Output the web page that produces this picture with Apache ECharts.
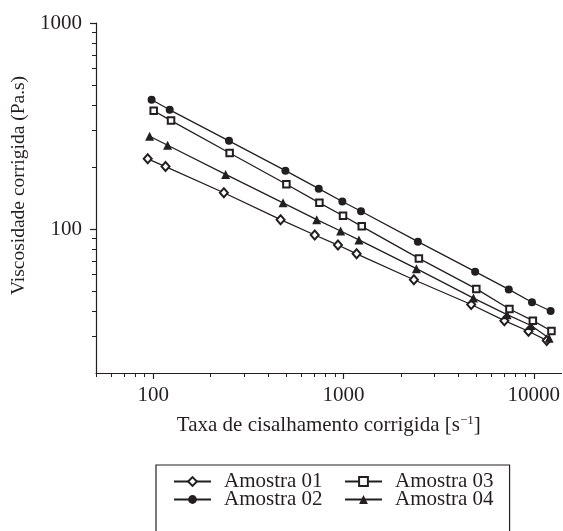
<!DOCTYPE html>
<html>
<head>
<meta charset="utf-8">
<script src="https://cdn.jsdelivr.net/npm/echarts@6/dist/echarts.min.js"></script>
<style>
html,body{margin:0;padding:0;background:#fff;}
#chart{width:563px;height:531px;}
</style>
</head>
<body>
<div id="chart"></div>
<script>
// ---- data ----
const seriesNames = ['Amostra 01', 'Amostra 02', 'Amostra 03', 'Amostra 04'];

const shear01 = [93.5, 116, 235, 467, 706, 935, 1172, 2344, 4690, 7010, 9380, 11700];
const visc01  = [219, 201, 150, 111, 93.5, 83.6, 75.8, 56.7, 43.0, 35.9, 31.9, 28.8];

const shear02 = [98, 122, 250, 495, 741, 986, 1236, 2460, 4920, 7390, 9790, 12270];
const visc02  = [424, 379, 268, 192, 157, 136, 122, 86.8, 62.1, 50.9, 44.1, 40];

const shear03 = [100.5, 124, 252, 501, 747, 994, 1247, 2490, 4990, 7450, 9890, 12390];
const visc03  = [375, 336, 234, 165, 134, 116, 103, 72, 51.2, 40.9, 35.9, 32];

const shear04 = [95.7, 119, 240, 481, 723, 966, 1205, 2416, 4820, 7240, 9680, 12050];
const visc04  = [282, 255, 184, 134, 111, 97.8, 88.5, 64.2, 46.2, 38.4, 34.0, 29.5];

const xMajorTicks = [100, 1000, 10000];
const xMinorTicks = [50, 60, 70, 80, 90, 200, 300, 400, 500, 600, 700, 800, 900,
                     2000, 3000, 4000, 5000, 6000, 7000, 8000, 9000];
const yMajorTicks = [100, 1000];
const yMinorTicks = [30, 40, 50, 60, 70, 80, 90, 200, 300, 400, 500, 600, 700, 800, 900];

const xTitle = 'Taxa de cisalhamento corrigida [s';
const xTitleSup = '\u22121';
const yTitle = 'Viscosidade corrigida (Pa.s)';

// ---- chart ----
const INK = '#231f20';
const FONT = 'Liberation Serif';
const pairs = (xs, ys) => xs.map((x, i) => [x, ys[i]]);

const chart = echarts.init(document.getElementById('chart'), null, {renderer: 'canvas'});

const baseLine = {lineStyle: {color: INK, width: 1.3}, emphasis: {disabled: true}, animation: false};

const legendText = {fontFamily: FONT, fontSize: 21, color: INK, lineHeight: 18, padding: [0, 0, 0, 8]};

const option = {
  animation: false,
  textStyle: {fontFamily: FONT, color: INK},
  grid: {left: 96, top: 23, right: 1, bottom: 158, containLabel: false},
  xAxis: [
    {
      type: 'log', logBase: 10, min: 50, max: 14000, position: 'bottom',
      name: '{t|' + xTitle + '}{s|' + xTitleSup + '}{t|]}',
      nameLocation: 'middle', nameGap: 41,
      nameTextStyle: {
        fontFamily: FONT, color: INK,
        rich: {
          t: {fontFamily: FONT, fontSize: 21, color: INK, lineHeight: 22},
          s: {fontFamily: FONT, fontSize: 13, color: INK, lineHeight: 13, verticalAlign: 'top'}
        }
      },
      axisLine: {show: true, lineStyle: {color: INK, width: 1.2}},
      axisTick: {show: true, length: 6, inside: false, customValues: xMajorTicks, lineStyle: {color: INK, width: 1.2}},
      axisLabel: {show: true, margin: 12, fontFamily: FONT, fontSize: 21, color: INK,
        customValues: xMajorTicks, formatter: v => String(Math.round(v))},
      splitLine: {show: false}
    },
    {
      type: 'log', logBase: 10, min: 50, max: 14000, position: 'bottom', gridIndex: 0,
      axisLine: {show: false},
      axisTick: {show: true, length: 4, inside: false, customValues: xMinorTicks, lineStyle: {color: INK, width: 1}},
      axisLabel: {show: false},
      splitLine: {show: false}
    }
  ],
  yAxis: [
    {
      type: 'log', logBase: 10, min: 20, max: 1000, position: 'left',
      name: yTitle, nameLocation: 'middle', nameGap: 63, nameRotate: 90,
      nameTextStyle: {fontFamily: FONT, fontSize: 19.5, color: INK, padding: [0, 0, 0, 25]},
      axisLine: {show: true, lineStyle: {color: INK, width: 1.2}},
      axisTick: {show: true, length: 6, inside: false, customValues: yMajorTicks, lineStyle: {color: INK, width: 1.2}},
      axisLabel: {show: true, margin: 14, fontFamily: FONT, fontSize: 21, color: INK,
        customValues: yMajorTicks, formatter: v => String(Math.round(v))},
      splitLine: {show: false}
    },
    {
      type: 'log', logBase: 10, min: 20, max: 1000, position: 'left', gridIndex: 0,
      axisLine: {show: false},
      axisTick: {show: true, length: 4, inside: false, customValues: yMinorTicks, lineStyle: {color: INK, width: 1}},
      axisLabel: {show: false},
      splitLine: {show: false}
    }
  ],
  legend: [
    {
      data: [seriesNames[0], seriesNames[1]],
      orient: 'vertical', left: 156, top: 465, height: 150,
      padding: [6, 187, 40, 17],
      borderColor: INK, borderWidth: 1.2, backgroundColor: '#fff',
      itemWidth: 37, itemHeight: 11, itemGap: -3,
      textStyle: legendText,
      selectedMode: false
    },
    {
      data: [seriesNames[2], seriesNames[3]],
      orient: 'vertical', left: 344, top: 471, height: 150,
      padding: 0,
      itemWidth: 37, itemHeight: 11, itemGap: -3,
      textStyle: legendText,
      selectedMode: false
    }
  ],
  series: [
    Object.assign({}, baseLine, {
      name: seriesNames[0], type: 'line', xAxisIndex: 0, yAxisIndex: 0,
      data: pairs(shear01, visc01), symbol: 'emptyDiamond', symbolSize: [8, 9],
      itemStyle: {color: INK, borderWidth: 1.2}, z: 3
    }),
    Object.assign({}, baseLine, {
      name: seriesNames[1], type: 'line', xAxisIndex: 0, yAxisIndex: 0,
      data: pairs(shear02, visc02), symbol: 'circle', symbolSize: 8,
      itemStyle: {color: INK}, z: 3
    }),
    Object.assign({}, baseLine, {
      name: seriesNames[2], type: 'line', xAxisIndex: 0, yAxisIndex: 0,
      data: pairs(shear03, visc03), symbol: 'emptyRect', symbolSize: 6.5,
      itemStyle: {color: INK, borderWidth: 1.2}, z: 4
    }),
    Object.assign({}, baseLine, {
      name: seriesNames[3], type: 'line', xAxisIndex: 0, yAxisIndex: 0,
      data: pairs(shear04, visc04), symbol: 'triangle', symbolSize: 9,
      itemStyle: {color: INK}, z: 3
    })
  ]
};

chart.setOption(option);
</script>
</body>
</html>
